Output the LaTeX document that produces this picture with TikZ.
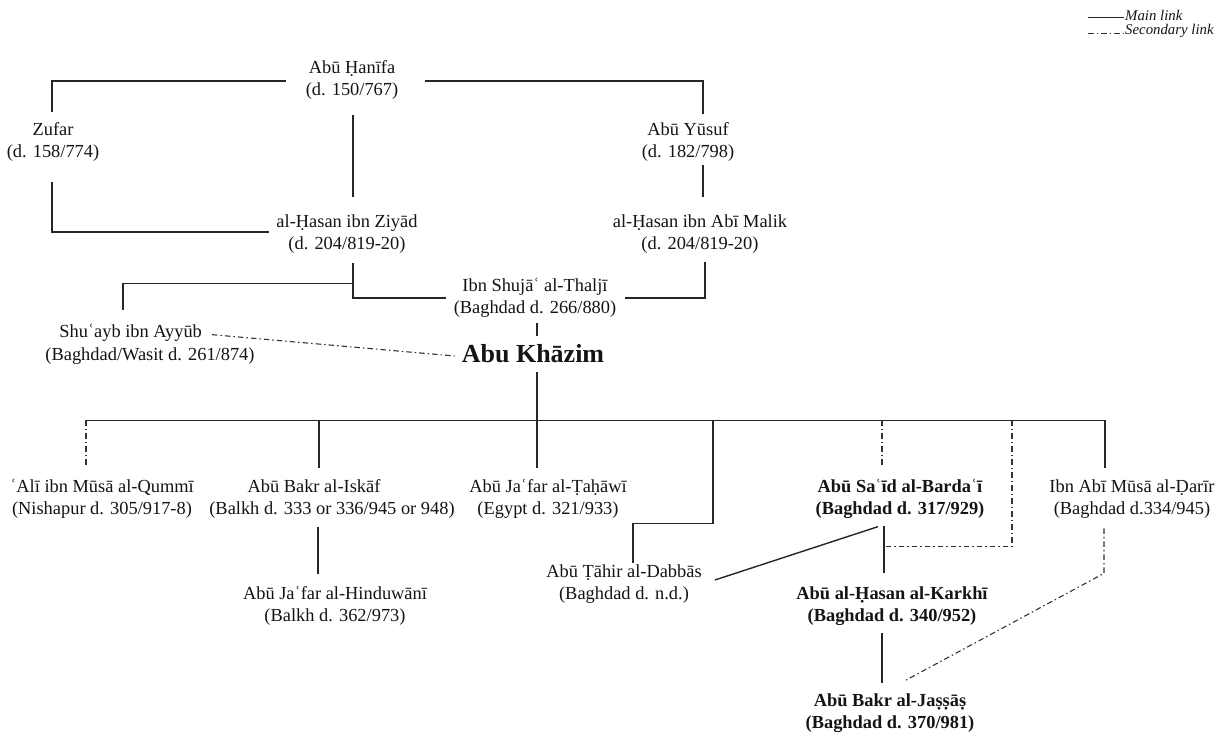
\documentclass[tikz,border=0pt]{standalone}
\usepackage{fontspec}
\setmainfont{Liberation Serif}
\usetikzlibrary{calc}
\tikzset{
  person/.style={align=center, inner sep=0pt, text=black!92,
    font=\fontsize{18.4pt}{21.5pt}\selectfont},
  boldperson/.style={person, font=\fontsize{18.4pt}{21.5pt}\selectfont\bfseries},
  mainlink/.style={draw=black!85, line width=1.4pt},
  seclink/.style={draw=black!80, line width=1.1pt,
    dash pattern=on 5.5pt off 3pt on 1.5pt off 3pt},
  legendtext/.style={inner sep=0pt, anchor=west, text=black!92,
    font=\fontsize{14.8pt}{16pt}\selectfont\itshape},
}
\begin{document}
\begin{tikzpicture}[x=1pt,y=-1pt]
\fill[white] (0,0) rectangle (1230,734);
\useasboundingbox (0,0) rectangle (1230,734);

% legend
\node[legendtext] (lmain) at (1125,15) {Main link};
\node[legendtext] (lsec) at (1125,31) {Secondary link};
\draw[mainlink, line width=1pt] ($(lmain.west)+(-37pt,-2pt)$) -- ($(lmain.west)+(-1pt,-2pt)$);
\draw[seclink, line width=0.9pt] ($(lsec.west)+(-37pt,-2pt)$) -- ($(lsec.west)+(-1pt,-2pt)$);

% teachers
\node[person] (hanifa) at (352,80) {Abū Ḥanīfa\\(d. 150/767)};
\node[person] (zufar) at (53,142) {Zufar\\(d. 158/774)};
\node[person] (yusuf) at (688,142) {Abū Yūsuf\\(d. 182/798)};
\node[person] (ziyad) at (347,234) {al-Ḥasan ibn Ziyād\\(d. 204/819-20)};
\node[person] (malik) at (700,234) {al-Ḥasan ibn Abī Malik\\(d. 204/819-20)};
\node[person] (shuja) at (535,298) {Ibn Shujāʿ al-Thaljī\\(Baghdad d. 266/880)};
\node[person, align=left, font=\fontsize{18.4pt}{23pt}\selectfont] (shuayb) at (150,344)
  {\hspace*{14pt}Shuʿayb ibn Ayyūb\\(Baghdad/Wasit d. 261/874)};
\node[person, font=\fontsize{26pt}{30pt}\selectfont\bfseries] (khazim) at (533,354) {Abu Khāzim};

% students
\node[person] (qummi) at (102,499) {ʿAlī ibn Mūsā al-Qummī\\(Nishapur d. 305/917-8)};
\node[person] (iskaf) at (332,499) {Abū Bakr al-Iskāf\hspace*{36pt}\\(Balkh d. 333 or 336/945 or 948)};
\node[person] (tahawi) at (548,499) {Abū Jaʿfar al-Ṭaḥāwī\\(Egypt d. 321/933)};
\node[boldperson] (bardai) at (900,499) {Abū Saʿīd al-Bardaʿī\\(Baghdad d. 317/929)};
\node[person] (darir) at (1132,499) {Ibn Abī Mūsā al-Ḍarīr\\(Baghdad d.334/945)};
\node[person] (hinduwani) at (335,606) {Abū Jaʿfar al-Hinduwānī\\(Balkh d. 362/973)};
\node[person] (dabbas) at (624,584) {Abū Ṭāhir al-Dabbās\\(Baghdad d. n.d.)};
\node[boldperson] (karkhi) at (892,606) {Abū al-Ḥasan al-Karkhī\\(Baghdad d. 340/952)};
\node[boldperson] (jassas) at (890,713) {Abū Bakr al-Jaṣṣāṣ\\(Baghdad d. 370/981)};

% upper generations
\draw[mainlink] ($(hanifa.west)+(-20pt,-1pt)$) -| ($(zufar.north)+(-1pt,11pt)$);
\draw[mainlink] ($(hanifa.east)+(27pt,-1pt)$) -| ($(yusuf.north)+(15pt,9pt)$);
\draw[mainlink] ($(hanifa.south)+(1pt,-16pt)$) -- ($(ziyad.north)+(6pt,18pt)$);
\draw[mainlink] ($(zufar.south)+(-1pt,-21pt)$) |- ($(ziyad.west)+(-7pt,2pt)$);
\draw[mainlink] ($(yusuf.south)+(15pt,-4pt)$) -- ($(malik.north)+(3pt,18pt)$);

\coordinate (zfork) at ($(ziyad.south)+(6pt,-30pt)$);
\draw[mainlink] ($(ziyad.south)+(6pt,-10pt)$) |- ($(shuja.west)+(-8pt,0pt)$);
\draw[mainlink] (zfork) -| ($(shuayb.north)+(-27pt,14pt)$);
\draw[mainlink] ($(shuja.east)+(9pt,0pt)$) -| ($(malik.south)+(5pt,-9pt)$);
\draw[mainlink] ($(shuja.south)+(2pt,-5pt)$) -- ($(khazim.north)+(4pt,9pt)$);
\draw[seclink] ($(shuayb.north)+(62pt,-11pt)$) -- ($(khazim.west)+(-7pt,-2pt)$);

% bus to the students
\coordinate (bus) at ($(khazim.south)+(4pt,-57pt)$);
\coordinate (qtop) at ($(qummi.north)+(-16pt,12pt)$);
\coordinate (itop) at ($(iskaf.north)+(-13pt,12pt)$);
\coordinate (ttop) at ($(tahawi.north)+(-11pt,11pt)$);
\coordinate (btop) at ($(bardai.north)+(-18pt,13pt)$);
\coordinate (dtop) at ($(darir.north)+(-27pt,12pt)$);
\draw[mainlink] (bus -| qtop) -- (bus -| dtop);
\draw[mainlink] ($(khazim.south)+(4pt,-9pt)$) -- (ttop);
\draw[seclink] (bus -| qtop) -- (qtop);
\draw[mainlink] (bus -| itop) -- (itop);
\draw[seclink] (bus -| btop) -- (btop);
\draw[mainlink] (bus -| dtop) -- (dtop);

% al-Dabbas elbow
\coordinate (dbend) at ($(dabbas.north)+(89pt,41pt)$);
\draw[mainlink] (bus -| dbend) -- (dbend) -| ($(dabbas.north)+(9pt,2pt)$);

% lower generations
\draw[mainlink] ($(iskaf.south)+(-14pt,-9pt)$) -- ($(hinduwani.north)+(-17pt,12pt)$);
\draw[mainlink] ($(bardai.south)+(-16pt,-7pt)$) -- ($(karkhi.north)+(-8pt,14pt)$);
\draw[mainlink] ($(bardai.south)+(-22pt,-8pt)$) -- ($(dabbas.east)+(13pt,4pt)$);
\coordinate (sbend) at ($(karkhi.north)+(120pt,40pt)$);
\draw[seclink] (bus -| sbend) -- (sbend) -- ($(karkhi.north)+(-7pt,40pt)$);
\coordinate (rbend) at ($(darir.south)+(-28pt,-55pt)$);
\draw[seclink] ($(darir.south)+(-28pt,-10pt)$) -- (rbend) -- ($(jassas.north)+(15pt,13pt)$);
\draw[mainlink] ($(karkhi.south)+(-10pt,-8pt)$) -- ($(jassas.north)+(-8pt,11pt)$);
\end{tikzpicture}
\end{document}
